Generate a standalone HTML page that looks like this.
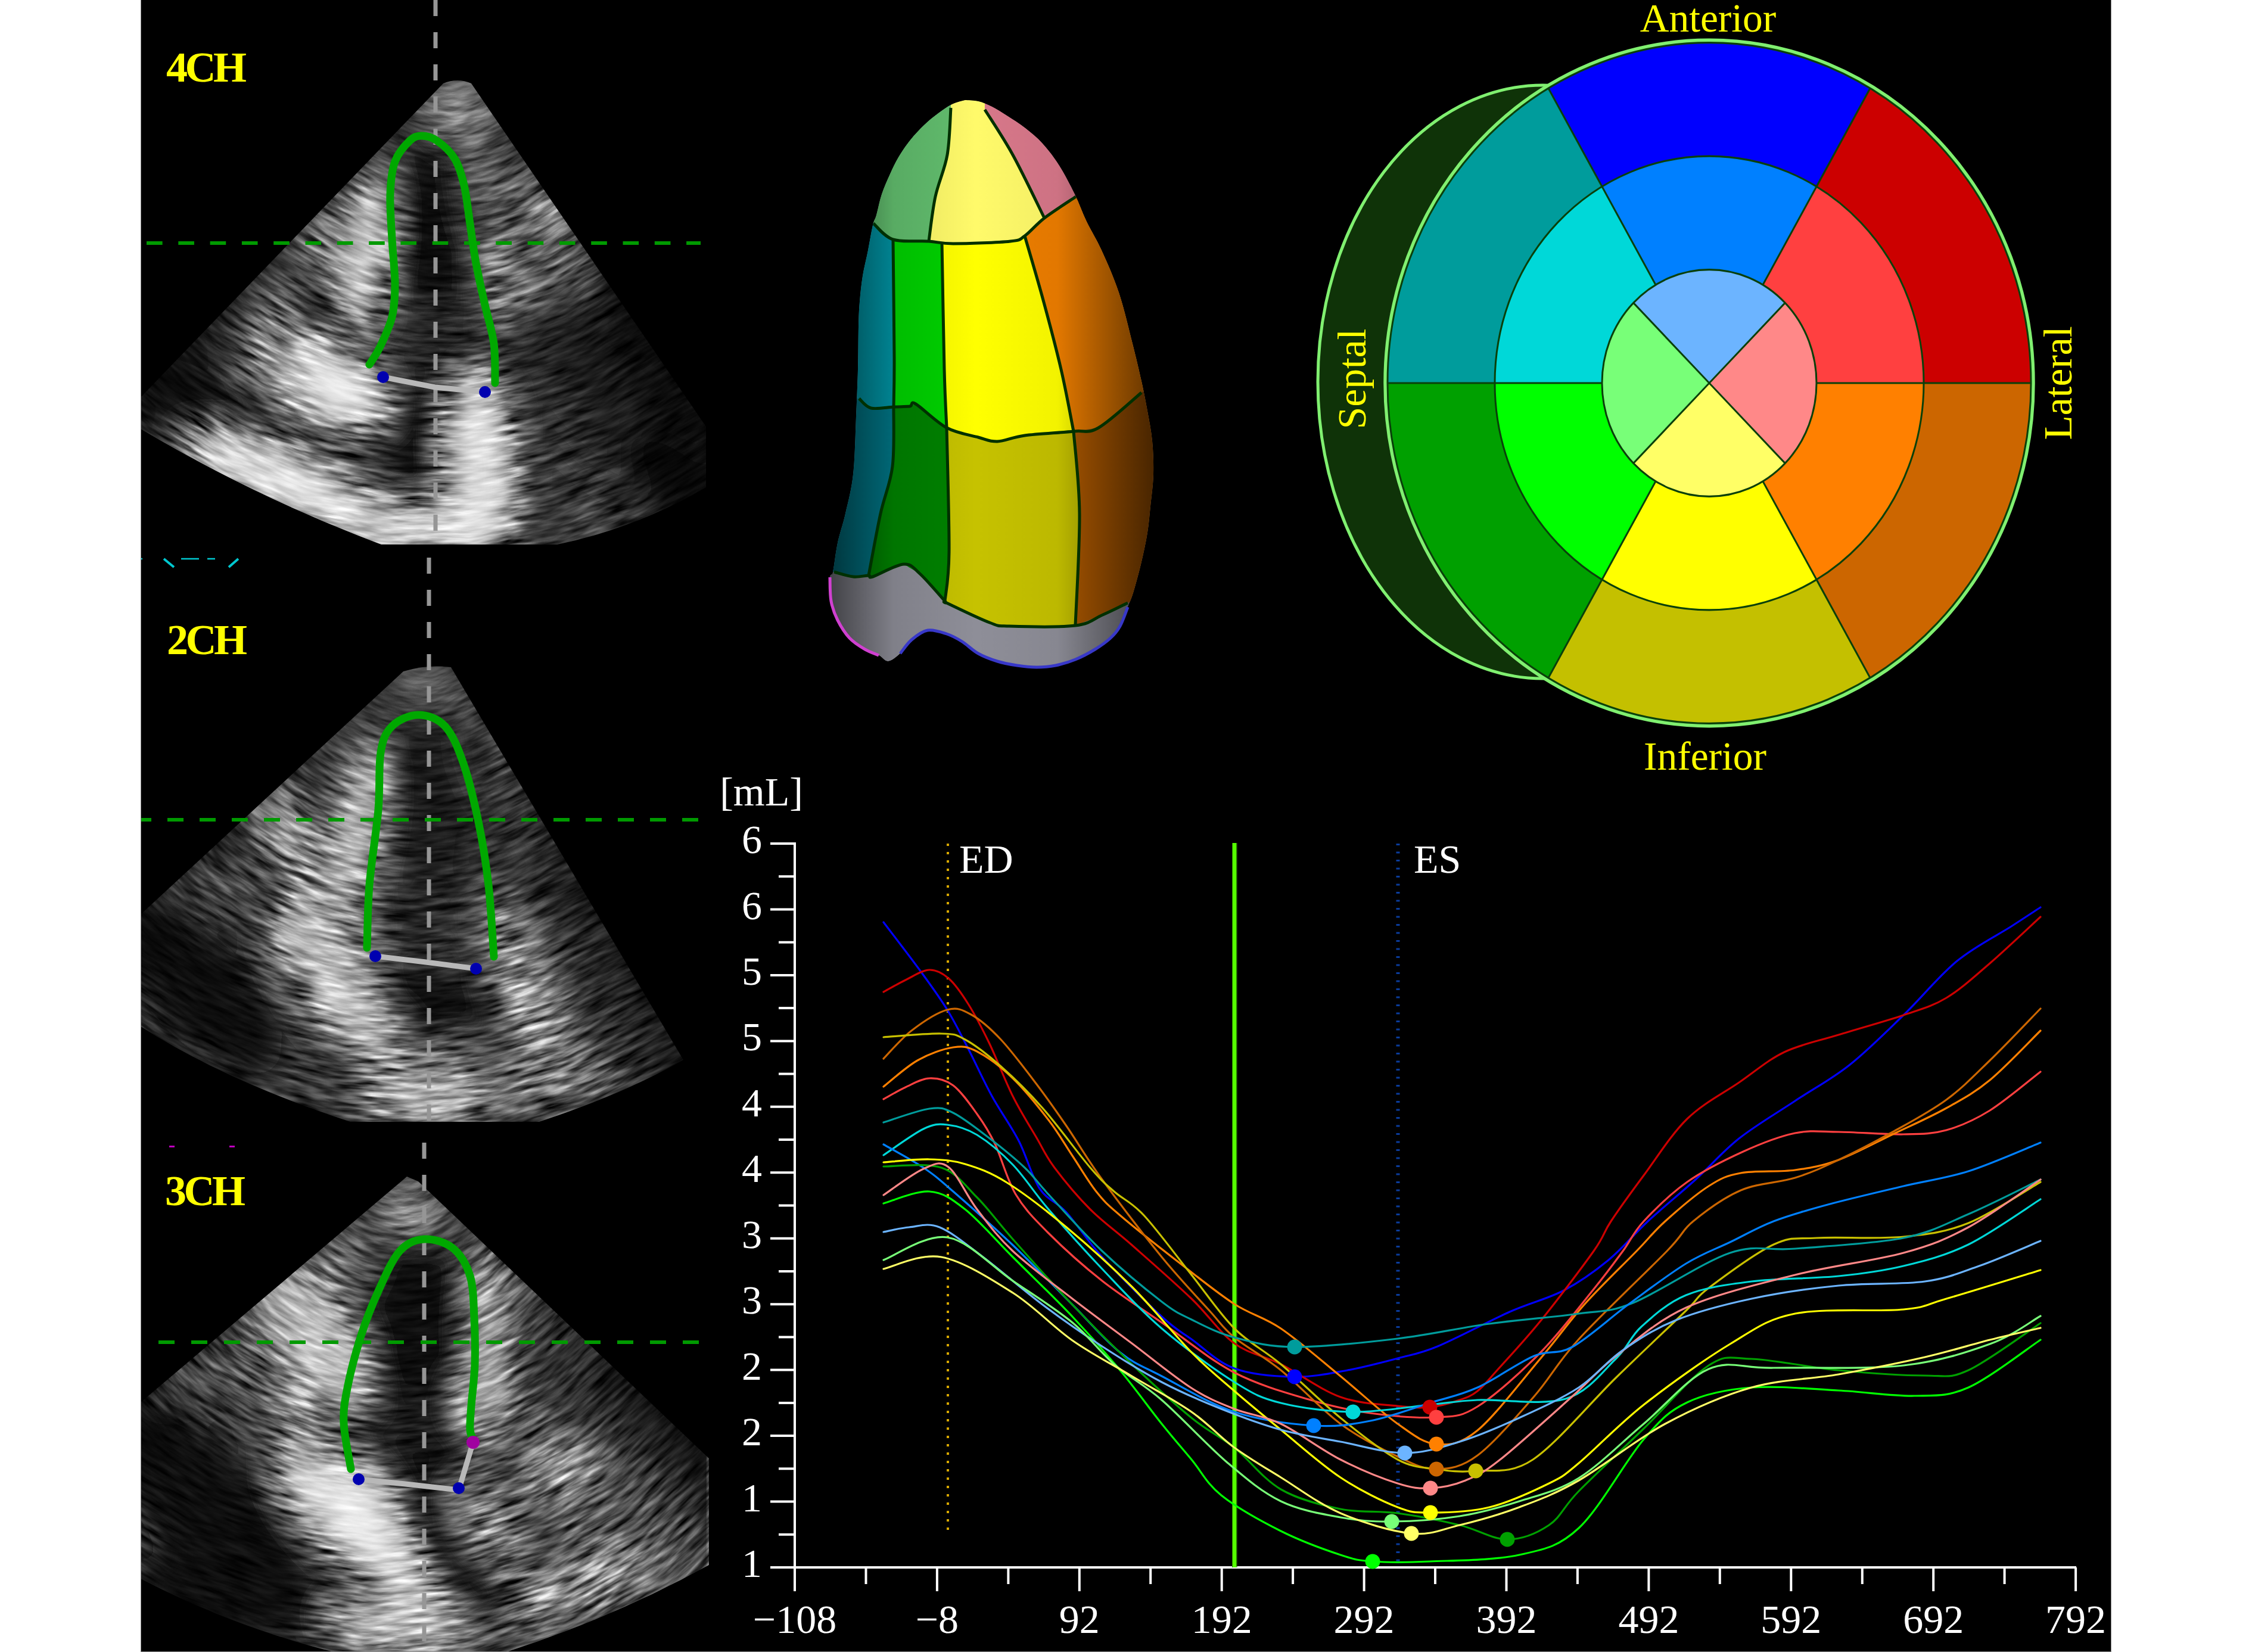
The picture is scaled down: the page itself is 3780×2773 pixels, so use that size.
<!DOCTYPE html>
<html><head><meta charset="utf-8"><style>
html,body{margin:0;padding:0;background:#fff;width:3780px;height:2773px;overflow:hidden}
svg{display:block}
</style></head><body>
<svg width="3780" height="2773" viewBox="0 0 3780 2773" font-family="Liberation Serif">
<rect x="0" y="0" width="3780" height="2773" fill="#FFFFFF"/>
<rect x="236" y="0" width="3308" height="2773" fill="#000000"/>
<defs>
<clipPath id="c4ch"><path d="M744,140 Q768,130 791,140 L1185,716 L1185,818 A825,825 0 0 1 935,914 L640,914 Q430,835 236,720 L236,667 Z"/></clipPath>
<filter id="b4ch" x="-50%" y="-50%" width="200%" height="200%"><feGaussianBlur stdDeviation="26"/></filter>
<clipPath id="c2ch"><path d="M677,1127 Q717,1115 757,1120 L1147,1779 Q1050,1835 905,1883 L588,1883 Q380,1815 236,1723 L236,1535 Z"/></clipPath>
<filter id="b2ch" x="-50%" y="-50%" width="200%" height="200%"><feGaussianBlur stdDeviation="26"/></filter>
<clipPath id="c3ch"><path d="M683,1975 L702,1983 L1190,2448 L1190,2627 Q1030,2715 850,2773 L560,2773 Q390,2730 236,2650 L236,2354 Z"/></clipPath>
<filter id="b3ch" x="-50%" y="-50%" width="200%" height="200%"><feGaussianBlur stdDeviation="26"/></filter>
<filter id="noise0" x="0" y="0" width="100%" height="100%" filterUnits="objectBoundingBox" color-interpolation-filters="sRGB"><feTurbulence type="fractalNoise" baseFrequency="0.015 0.11" numOctaves="3" seed="3"/><feColorMatrix type="matrix" values="1.7 0 0 0 -0.35  1.7 0 0 0 -0.35  1.7 0 0 0 -0.35  0 0 0 0 1"/></filter>
<filter id="noise1" x="0" y="0" width="100%" height="100%" filterUnits="objectBoundingBox" color-interpolation-filters="sRGB"><feTurbulence type="fractalNoise" baseFrequency="0.015 0.11" numOctaves="3" seed="11"/><feColorMatrix type="matrix" values="1.7 0 0 0 -0.35  1.7 0 0 0 -0.35  1.7 0 0 0 -0.35  0 0 0 0 1"/></filter>
<filter id="noise2" x="0" y="0" width="100%" height="100%" filterUnits="objectBoundingBox" color-interpolation-filters="sRGB"><feTurbulence type="fractalNoise" baseFrequency="0.015 0.11" numOctaves="3" seed="29"/><feColorMatrix type="matrix" values="1.7 0 0 0 -0.35  1.7 0 0 0 -0.35  1.7 0 0 0 -0.35  0 0 0 0 1"/></filter>
<filter id="mblur" x="-20%" y="-20%" width="140%" height="140%"><feGaussianBlur stdDeviation="28"/></filter>
<clipPath id="hclip"><rect x="236" y="0" width="1000" height="2773"/></clipPath>
</defs>
<g clip-path="url(#c4ch)">
<rect x="236" y="0" width="950" height="2773" fill="rgb(55,55,55)"/>
<g filter="url(#b4ch)">
<ellipse cx="770.0" cy="185.0" rx="58.5" ry="50.0" transform="rotate(26.6 770.0 185.0)" fill="rgb(131,131,131)"/>
<ellipse cx="614.0" cy="430.0" rx="145.8" ry="30.0" transform="rotate(96.1 614.0 430.0)" fill="rgb(233,233,233)"/>
<ellipse cx="540.0" cy="400.0" rx="85.7" ry="45.0" transform="rotate(71.6 540.0 400.0)" fill="rgb(139,139,139)"/>
<ellipse cx="480.0" cy="495.0" rx="101.3" ry="35.0" transform="rotate(17.4 480.0 495.0)" fill="rgb(124,124,124)"/>
<ellipse cx="550.0" cy="520.0" rx="82.8" ry="37.5" transform="rotate(51.3 550.0 520.0)" fill="rgb(15,15,15)"/>
<ellipse cx="540.0" cy="640.0" rx="116.9" ry="55.0" transform="rotate(26.6 540.0 640.0)" fill="rgb(245,245,245)"/>
<ellipse cx="460.0" cy="600.0" rx="92.1" ry="40.0" transform="rotate(56.3 460.0 600.0)" fill="rgb(168,168,168)"/>
<ellipse cx="475.0" cy="715.0" rx="128.2" ry="35.0" transform="rotate(18.4 475.0 715.0)" fill="rgb(23,23,23)"/>
<ellipse cx="480.0" cy="810.0" rx="184.1" ry="45.0" transform="rotate(21.8 480.0 810.0)" fill="rgb(240,240,240)"/>
<ellipse cx="318.0" cy="660.0" rx="113.7" ry="45.0" transform="rotate(26.0 318.0 660.0)" fill="rgb(15,15,15)"/>
<ellipse cx="728.5" cy="392.5" rx="178.9" ry="62.5" transform="rotate(87.5 728.5 392.5)" fill="rgb(15,15,15)"/>
<ellipse cx="735.0" cy="565.0" rx="82.7" ry="55.0" transform="rotate(5.2 735.0 565.0)" fill="rgb(37,37,37)"/>
<ellipse cx="735.0" cy="605.0" rx="55.0" ry="20.0" transform="rotate(0.0 735.0 605.0)" fill="rgb(15,15,15)"/>
<ellipse cx="705.0" cy="750.0" rx="118.7" ry="55.0" transform="rotate(80.5 705.0 750.0)" fill="rgb(15,15,15)"/>
<ellipse cx="820.0" cy="335.0" rx="124.4" ry="35.0" transform="rotate(79.2 820.0 335.0)" fill="rgb(95,95,95)"/>
<ellipse cx="860.0" cy="490.0" rx="92.8" ry="40.0" transform="rotate(74.1 860.0 490.0)" fill="rgb(153,153,153)"/>
<ellipse cx="810.0" cy="780.0" rx="157.9" ry="55.0" transform="rotate(85.6 810.0 780.0)" fill="rgb(226,226,226)"/>
<ellipse cx="940.0" cy="400.0" rx="114.4" ry="50.0" transform="rotate(63.4 940.0 400.0)" fill="rgb(146,146,146)"/>
<ellipse cx="710.0" cy="890.0" rx="137.5" ry="35.0" transform="rotate(0.0 710.0 890.0)" fill="rgb(240,240,240)"/>
<ellipse cx="1025.0" cy="680.0" rx="228.3" ry="110.0" transform="rotate(43.8 1025.0 680.0)" fill="rgb(37,37,37)"/>
<ellipse cx="1132.5" cy="795.0" rx="106.0" ry="60.0" transform="rotate(46.3 1132.5 795.0)" fill="rgb(15,15,15)"/>
</g>
<g style="mix-blend-mode:overlay">
<g mask="url(#w4ch0)"><g transform="rotate(40.9 768 106)"><rect x="-332" y="-44" width="2200" height="1900" filter="url(#noise0)"/></g></g>
<g mask="url(#w4ch1)"><g transform="rotate(30.6 768 106)"><rect x="-332" y="-44" width="2200" height="1900" filter="url(#noise1)"/></g></g>
<g mask="url(#w4ch2)"><g transform="rotate(20.4 768 106)"><rect x="-332" y="-44" width="2200" height="1900" filter="url(#noise2)"/></g></g>
<g mask="url(#w4ch3)"><g transform="rotate(10.1 768 106)"><rect x="-332" y="-44" width="2200" height="1900" filter="url(#noise0)"/></g></g>
<g mask="url(#w4ch4)"><g transform="rotate(-0.1 768 106)"><rect x="-332" y="-44" width="2200" height="1900" filter="url(#noise1)"/></g></g>
<g mask="url(#w4ch5)"><g transform="rotate(-10.4 768 106)"><rect x="-332" y="-44" width="2200" height="1900" filter="url(#noise2)"/></g></g>
<g mask="url(#w4ch6)"><g transform="rotate(-20.6 768 106)"><rect x="-332" y="-44" width="2200" height="1900" filter="url(#noise0)"/></g></g>
<g mask="url(#w4ch7)"><g transform="rotate(-30.9 768 106)"><rect x="-332" y="-44" width="2200" height="1900" filter="url(#noise1)"/></g></g>
</g>
<g mask="url(#fm4ch)">
<path d="M751.0,46.2 L1709.6,1447.5 L1552.8,1554.8 L594.2,153.4 Z" fill="url(#fd4ch0)"/>
<path d="M799.0,54.1 L-403.0,1301.1 L-309.4,1391.3 L892.6,144.3 Z" fill="url(#fd4ch1)"/>
</g>
</g>
<g clip-path="url(#c2ch)">
<rect x="236" y="0" width="950" height="2773" fill="rgb(55,55,55)"/>
<g filter="url(#b2ch)">
<ellipse cx="720.0" cy="1165.0" rx="62.5" ry="45.0" transform="rotate(0.0 720.0 1165.0)" fill="rgb(88,88,88)"/>
<ellipse cx="602.5" cy="1375.0" rx="140.6" ry="30.0" transform="rotate(95.7 602.5 1375.0)" fill="rgb(218,218,218)"/>
<ellipse cx="490.0" cy="1410.0" rx="121.8" ry="55.0" transform="rotate(58.0 490.0 1410.0)" fill="rgb(139,139,139)"/>
<ellipse cx="450.0" cy="1362.5" rx="33.6" ry="20.0" transform="rotate(32.0 450.0 1362.5)" fill="rgb(226,226,226)"/>
<ellipse cx="335.0" cy="1465.0" rx="86.7" ry="40.0" transform="rotate(13.0 335.0 1465.0)" fill="rgb(95,95,95)"/>
<ellipse cx="720.0" cy="1360.0" rx="175.1" ry="70.0" transform="rotate(88.0 720.0 1360.0)" fill="rgb(30,30,30)"/>
<ellipse cx="865.0" cy="1355.0" rx="186.4" ry="55.0" transform="rotate(65.9 865.0 1355.0)" fill="rgb(59,59,59)"/>
<ellipse cx="333.0" cy="1660.0" rx="181.8" ry="85.0" transform="rotate(45.9 333.0 1660.0)" fill="rgb(15,15,15)"/>
<ellipse cx="565.0" cy="1655.0" rx="170.5" ry="55.0" transform="rotate(53.5 565.0 1655.0)" fill="rgb(197,197,197)"/>
<ellipse cx="565.0" cy="1540.0" rx="84.8" ry="35.0" transform="rotate(48.0 565.0 1540.0)" fill="rgb(153,153,153)"/>
<ellipse cx="720.0" cy="1535.0" rx="105.2" ry="50.0" transform="rotate(3.6 720.0 1535.0)" fill="rgb(37,37,37)"/>
<ellipse cx="740.0" cy="1685.0" rx="118.7" ry="55.0" transform="rotate(9.5 740.0 1685.0)" fill="rgb(15,15,15)"/>
<ellipse cx="745.0" cy="1775.0" rx="98.8" ry="27.5" transform="rotate(0.0 745.0 1775.0)" fill="rgb(95,95,95)"/>
<ellipse cx="725.0" cy="1845.0" rx="122.5" ry="35.0" transform="rotate(0.0 725.0 1845.0)" fill="rgb(211,211,211)"/>
<ellipse cx="890.0" cy="1660.0" rx="176.2" ry="55.0" transform="rotate(70.3 890.0 1660.0)" fill="rgb(139,139,139)"/>
<ellipse cx="1040.0" cy="1615.0" rx="189.4" ry="65.0" transform="rotate(59.3 1040.0 1615.0)" fill="rgb(66,66,66)"/>
<ellipse cx="920.0" cy="1815.0" rx="140.9" ry="40.0" transform="rotate(-7.1 920.0 1815.0)" fill="rgb(110,110,110)"/>
</g>
<g style="mix-blend-mode:overlay">
<g mask="url(#w2ch0)"><g transform="rotate(43.0 718 1085)"><rect x="-382" y="935" width="2200" height="1900" filter="url(#noise0)"/></g></g>
<g mask="url(#w2ch1)"><g transform="rotate(33.0 718 1085)"><rect x="-382" y="935" width="2200" height="1900" filter="url(#noise1)"/></g></g>
<g mask="url(#w2ch2)"><g transform="rotate(23.0 718 1085)"><rect x="-382" y="935" width="2200" height="1900" filter="url(#noise2)"/></g></g>
<g mask="url(#w2ch3)"><g transform="rotate(13.0 718 1085)"><rect x="-382" y="935" width="2200" height="1900" filter="url(#noise0)"/></g></g>
<g mask="url(#w2ch4)"><g transform="rotate(3.0 718 1085)"><rect x="-382" y="935" width="2200" height="1900" filter="url(#noise1)"/></g></g>
<g mask="url(#w2ch5)"><g transform="rotate(-7.0 718 1085)"><rect x="-382" y="935" width="2200" height="1900" filter="url(#noise2)"/></g></g>
<g mask="url(#w2ch6)"><g transform="rotate(-17.0 718 1085)"><rect x="-382" y="935" width="2200" height="1900" filter="url(#noise0)"/></g></g>
<g mask="url(#w2ch7)"><g transform="rotate(-27.0 718 1085)"><rect x="-382" y="935" width="2200" height="1900" filter="url(#noise1)"/></g></g>
</g>
<g mask="url(#fm2ch)">
<path d="M723.3,1023.8 L1622.6,2543.3 L1476.3,2629.9 L577.0,1110.3 Z" fill="url(#fd2ch0)"/>
<path d="M736.8,1044.4 L-438.2,2131.5 L-356.7,2219.6 L818.3,1132.5 Z" fill="url(#fd2ch1)"/>
</g>
</g>
<g clip-path="url(#c3ch)">
<rect x="236" y="0" width="950" height="2773" fill="rgb(55,55,55)"/>
<g filter="url(#b3ch)">
<ellipse cx="685.0" cy="2030.0" rx="50.4" ry="40.0" transform="rotate(80.5 685.0 2030.0)" fill="rgb(153,153,153)"/>
<ellipse cx="575.0" cy="2125.0" rx="71.5" ry="40.0" transform="rotate(119.1 575.0 2125.0)" fill="rgb(110,110,110)"/>
<ellipse cx="515.0" cy="2235.0" rx="153.5" ry="65.0" transform="rotate(51.7 515.0 2235.0)" fill="rgb(197,197,197)"/>
<ellipse cx="345.0" cy="2290.0" rx="100.8" ry="40.0" transform="rotate(-21.8 345.0 2290.0)" fill="rgb(110,110,110)"/>
<ellipse cx="697.5" cy="2235.0" rx="171.3" ry="92.5" transform="rotate(91.1 697.5 2235.0)" fill="rgb(15,15,15)"/>
<ellipse cx="825.0" cy="2270.0" rx="163.9" ry="27.5" transform="rotate(87.3 825.0 2270.0)" fill="rgb(204,204,204)"/>
<ellipse cx="785.0" cy="2065.0" rx="82.7" ry="35.0" transform="rotate(32.5 785.0 2065.0)" fill="rgb(66,66,66)"/>
<ellipse cx="955.0" cy="2255.0" rx="153.5" ry="65.0" transform="rotate(38.3 955.0 2255.0)" fill="rgb(73,73,73)"/>
<ellipse cx="358.0" cy="2550.0" rx="243.3" ry="100.0" transform="rotate(50.9 358.0 2550.0)" fill="rgb(15,15,15)"/>
<ellipse cx="318.0" cy="2700.0" rx="126.6" ry="50.0" transform="rotate(36.2 318.0 2700.0)" fill="rgb(15,15,15)"/>
<ellipse cx="600.0" cy="2545.0" rx="170.4" ry="65.0" transform="rotate(43.5 600.0 2545.0)" fill="rgb(240,240,240)"/>
<ellipse cx="510.0" cy="2395.0" rx="103.9" ry="45.0" transform="rotate(42.5 510.0 2395.0)" fill="rgb(124,124,124)"/>
<ellipse cx="690.0" cy="2720.0" rx="135.0" ry="50.0" transform="rotate(0.0 690.0 2720.0)" fill="rgb(197,197,197)"/>
<ellipse cx="690.0" cy="2400.0" rx="120.0" ry="60.0" transform="rotate(0.0 690.0 2400.0)" fill="rgb(30,30,30)"/>
<ellipse cx="755.0" cy="2600.0" rx="174.0" ry="65.0" transform="rotate(58.0 755.0 2600.0)" fill="rgb(15,15,15)"/>
<ellipse cx="712.5" cy="2445.0" rx="66.2" ry="27.5" transform="rotate(0.0 712.5 2445.0)" fill="rgb(15,15,15)"/>
<ellipse cx="825.0" cy="2380.0" rx="78.5" ry="35.0" transform="rotate(55.0 825.0 2380.0)" fill="rgb(197,197,197)"/>
<ellipse cx="820.0" cy="2560.0" rx="92.1" ry="40.0" transform="rotate(56.3 820.0 2560.0)" fill="rgb(139,139,139)"/>
<ellipse cx="1015.0" cy="2525.0" rx="239.0" ry="110.0" transform="rotate(42.8 1015.0 2525.0)" fill="rgb(81,81,81)"/>
<ellipse cx="945.0" cy="2468.0" rx="73.6" ry="20.0" transform="rotate(-30.2 945.0 2468.0)" fill="rgb(197,197,197)"/>
<ellipse cx="975.0" cy="2647.5" rx="128.3" ry="30.0" transform="rotate(-22.0 975.0 2647.5)" fill="rgb(153,153,153)"/>
<ellipse cx="955.0" cy="2720.0" rx="124.4" ry="35.0" transform="rotate(-10.8 955.0 2720.0)" fill="rgb(95,95,95)"/>
</g>
<g style="mix-blend-mode:overlay">
<g mask="url(#w3ch0)"><g transform="rotate(43.9 690 1968)"><rect x="-410" y="1818" width="2200" height="1900" filter="url(#noise0)"/></g></g>
<g mask="url(#w3ch1)"><g transform="rotate(31.6 690 1968)"><rect x="-410" y="1818" width="2200" height="1900" filter="url(#noise1)"/></g></g>
<g mask="url(#w3ch2)"><g transform="rotate(19.4 690 1968)"><rect x="-410" y="1818" width="2200" height="1900" filter="url(#noise2)"/></g></g>
<g mask="url(#w3ch3)"><g transform="rotate(7.1 690 1968)"><rect x="-410" y="1818" width="2200" height="1900" filter="url(#noise0)"/></g></g>
<g mask="url(#w3ch4)"><g transform="rotate(-5.1 690 1968)"><rect x="-410" y="1818" width="2200" height="1900" filter="url(#noise1)"/></g></g>
<g mask="url(#w3ch5)"><g transform="rotate(-17.4 690 1968)"><rect x="-410" y="1818" width="2200" height="1900" filter="url(#noise2)"/></g></g>
<g mask="url(#w3ch6)"><g transform="rotate(-29.6 690 1968)"><rect x="-410" y="1818" width="2200" height="1900" filter="url(#noise0)"/></g></g>
<g mask="url(#w3ch7)"><g transform="rotate(-41.9 690 1968)"><rect x="-410" y="1818" width="2200" height="1900" filter="url(#noise1)"/></g></g>
</g>
<g mask="url(#fm3ch)">
<path d="M643.4,1899.5 L1855.4,3054.4 L1731.2,3184.7 L519.2,2029.8 Z" fill="url(#fd3ch0)"/>
<path d="M746.3,1895.1 L-463.4,2920.8 L-385.8,3012.3 L823.9,1986.6 Z" fill="url(#fd3ch1)"/>
</g>
</g>
<line x1="731" y1="0" x2="731" y2="914" stroke="#969696" stroke-width="7" stroke-dasharray="27 27"/>
<line x1="246" y1="408" x2="1176" y2="408" stroke="#009A00" stroke-width="6" stroke-dasharray="26.65 26.65" clip-path="url(#hclip)"/>
<path d="M620.0,612.0 C623.0,607.0 631.7,595.3 638.0,582.0 C644.3,568.7 653.8,549.5 658.0,532.0 C662.2,514.5 663.0,498.8 663.0,477.0 C663.0,455.2 659.3,426.2 658.0,401.0 C656.7,375.8 654.2,347.7 655.0,326.0 C655.8,304.3 657.5,286.0 663.0,271.0 C668.5,256.0 680.5,243.2 688.0,236.0 C695.5,228.8 700.5,228.0 708.0,228.0 C715.5,228.0 723.8,229.7 733.0,236.0 C742.2,242.3 755.3,253.5 763.0,266.0 C770.7,278.5 774.7,292.7 779.0,311.0 C783.3,329.3 785.7,354.2 789.0,376.0 C792.3,397.8 794.8,419.3 799.0,442.0 C803.2,464.7 809.0,489.5 814.0,512.0 C819.0,534.5 826.2,555.2 829.0,577.0 C831.8,598.8 830.7,632.0 831.0,643.0" fill="none" stroke="#00A800" stroke-width="13" stroke-linecap="round"/>
<path d="M643,633 L730,650 L814,658" fill="none" stroke="#B8B8B8" stroke-width="9" stroke-linecap="round"/>
<circle cx="643" cy="633" r="10" fill="#0000B0"/>
<circle cx="814" cy="658" r="10" fill="#0000B0"/>
<text x="279" y="137" font-family="Liberation Serif" font-weight="bold" font-size="72" letter-spacing="-4.5" fill="#FFFF00">4CH</text>
<line x1="720" y1="936" x2="720" y2="1882" stroke="#969696" stroke-width="7" stroke-dasharray="27 27"/>
<line x1="227" y1="1376" x2="1173" y2="1376" stroke="#009A00" stroke-width="6" stroke-dasharray="27 27" clip-path="url(#hclip)"/>
<path d="M616.0,1591.0 C616.7,1573.5 616.8,1524.7 620.0,1486.0 C623.2,1447.3 631.8,1396.2 635.0,1359.0 C638.2,1321.8 635.2,1286.3 639.0,1263.0 C642.8,1239.7 647.5,1229.5 658.0,1219.0 C668.5,1208.5 687.2,1200.0 702.0,1200.0 C716.8,1200.0 734.3,1205.3 747.0,1219.0 C759.7,1232.7 768.5,1254.5 778.0,1282.0 C787.5,1309.5 797.0,1350.0 804.0,1384.0 C811.0,1418.0 815.8,1449.0 820.0,1486.0 C824.2,1523.0 827.5,1586.0 829.0,1606.0" fill="none" stroke="#00A800" stroke-width="13" stroke-linecap="round"/>
<path d="M630,1605 L715,1615 L799,1626" fill="none" stroke="#B8B8B8" stroke-width="9" stroke-linecap="round"/>
<circle cx="630" cy="1605" r="10" fill="#0000B0"/>
<circle cx="799" cy="1626" r="10" fill="#0000B0"/>
<text x="280" y="1098" font-family="Liberation Serif" font-weight="bold" font-size="72" letter-spacing="-4.5" fill="#FFFF00">2CH</text>
<line x1="712" y1="1918" x2="712" y2="2773" stroke="#969696" stroke-width="7" stroke-dasharray="27 27"/>
<line x1="266" y1="2253" x2="1175" y2="2253" stroke="#009A00" stroke-width="6" stroke-dasharray="27 28" clip-path="url(#hclip)"/>
<path d="M589.0,2466.0 C587.0,2453.2 578.0,2411.7 577.0,2389.0 C576.0,2366.3 578.2,2354.5 583.0,2330.0 C587.8,2305.5 597.2,2269.5 606.0,2242.0 C614.8,2214.5 625.2,2188.7 636.0,2165.0 C646.8,2141.3 658.3,2114.2 671.0,2100.0 C683.7,2085.8 697.2,2080.8 712.0,2080.0 C726.8,2079.2 747.2,2084.7 760.0,2095.0 C772.8,2105.3 783.0,2122.5 789.0,2142.0 C795.0,2161.5 794.7,2187.3 796.0,2212.0 C797.3,2236.7 797.8,2265.3 797.0,2290.0 C796.2,2314.7 792.3,2341.7 791.0,2360.0 C789.7,2378.3 788.3,2390.3 789.0,2400.0 C789.7,2409.7 794.0,2415.0 795.0,2418.0" fill="none" stroke="#00A800" stroke-width="13" stroke-linecap="round"/>
<path d="M602,2483 L690,2492 L770,2501 L794,2421" fill="none" stroke="#B8B8B8" stroke-width="9" stroke-linecap="round"/>
<circle cx="602" cy="2483" r="10" fill="#0000B0"/>
<circle cx="770" cy="2498" r="10" fill="#0000B0"/>
<text x="277" y="2023" font-family="Liberation Serif" font-weight="bold" font-size="72" letter-spacing="-4.5" fill="#FFFF00">3CH</text>
<circle cx="794" cy="2421" r="11" fill="#A000A0"/>
<path d="M275,938 L292,952 M400,938 L384,952" fill="none" stroke="#00C8D0" stroke-width="4"/>
<path d="M236,938 L239,938 M304,938 L334,938 M348,938 L361,938" fill="none" stroke="#00C8D0" stroke-width="2.5"/>
<rect x="284" y="1923" width="9" height="3" fill="#C000C0"/><rect x="385" y="1923" width="9" height="3" fill="#C000C0"/>
<defs><mask id="w4ch0" maskUnits="userSpaceOnUse" x="0" y="0" width="3780" height="2773"><path d="M768,46 L-374.1,1078.4 L-30.5,1375.8 Z" fill="#fff" filter="url(#mblur)"/></mask><mask id="w4ch1" maskUnits="userSpaceOnUse" x="0" y="0" width="3780" height="2773"><path d="M768,46 L-182.8,1266.1 L208.2,1497.6 Z" fill="#fff" filter="url(#mblur)"/></mask><mask id="w4ch2" maskUnits="userSpaceOnUse" x="0" y="0" width="3780" height="2773"><path d="M768,46 L38.8,1416.8 L464.8,1575.0 Z" fill="#fff" filter="url(#mblur)"/></mask><mask id="w4ch3" maskUnits="userSpaceOnUse" x="0" y="0" width="3780" height="2773"><path d="M768,46 L283.7,1525.7 L731.0,1605.5 Z" fill="#fff" filter="url(#mblur)"/></mask><mask id="w4ch4" maskUnits="userSpaceOnUse" x="0" y="0" width="3780" height="2773"><path d="M768,46 L544.0,1589.2 L998.4,1588.2 Z" fill="#fff" filter="url(#mblur)"/></mask><mask id="w4ch5" maskUnits="userSpaceOnUse" x="0" y="0" width="3780" height="2773"><path d="M768,46 L811.5,1605.4 L1258.5,1523.5 Z" fill="#fff" filter="url(#mblur)"/></mask><mask id="w4ch6" maskUnits="userSpaceOnUse" x="0" y="0" width="3780" height="2773"><path d="M768,46 L1077.6,1573.7 L1502.9,1413.6 Z" fill="#fff" filter="url(#mblur)"/></mask><mask id="w4ch7" maskUnits="userSpaceOnUse" x="0" y="0" width="3780" height="2773"><path d="M768,46 L1333.9,1495.2 L1723.9,1262.0 Z" fill="#fff" filter="url(#mblur)"/></mask><radialGradient id="rg4ch" gradientUnits="userSpaceOnUse" cx="768" cy="106" r="800"><stop offset="0.28" stop-color="#000"/><stop offset="0.6" stop-color="#fff"/></radialGradient><mask id="fm4ch" maskUnits="userSpaceOnUse" x="0" y="0" width="3780" height="2773"><rect x="0" y="0" width="3780" height="2773" fill="url(#rg4ch)"/></mask><linearGradient id="fd4ch0" gradientUnits="userSpaceOnUse" x1="791.0" y1="140.0" x2="650.7" y2="236.0"><stop offset="0" stop-color="#000" stop-opacity="0.75"/><stop offset="1" stop-color="#000" stop-opacity="0"/></linearGradient><linearGradient id="fd4ch1" gradientUnits="userSpaceOnUse" x1="744.0" y1="140.0" x2="823.2" y2="216.3"><stop offset="0" stop-color="#000" stop-opacity="0.50"/><stop offset="1" stop-color="#000" stop-opacity="0"/></linearGradient><mask id="w2ch0" maskUnits="userSpaceOnUse" x="0" y="0" width="3780" height="2773"><path d="M718,1025 L-455.9,2018.8 L-131.6,2321.2 Z" fill="#fff" filter="url(#mblur)"/></mask><mask id="w2ch1" maskUnits="userSpaceOnUse" x="0" y="0" width="3780" height="2773"><path d="M718,1025 L-275.9,2208.4 L96.0,2449.9 Z" fill="#fff" filter="url(#mblur)"/></mask><mask id="w2ch2" maskUnits="userSpaceOnUse" x="0" y="0" width="3780" height="2773"><path d="M718,1025 L-65.7,2364.0 L342.4,2537.2 Z" fill="#fff" filter="url(#mblur)"/></mask><mask id="w2ch3" maskUnits="userSpaceOnUse" x="0" y="0" width="3780" height="2773"><path d="M718,1025 L168.2,2480.6 L600.3,2580.4 Z" fill="#fff" filter="url(#mblur)"/></mask><mask id="w2ch4" maskUnits="userSpaceOnUse" x="0" y="0" width="3780" height="2773"><path d="M718,1025 L418.9,2554.9 L861.8,2578.1 Z" fill="#fff" filter="url(#mblur)"/></mask><mask id="w2ch5" maskUnits="userSpaceOnUse" x="0" y="0" width="3780" height="2773"><path d="M718,1025 L678.7,2584.5 L1118.9,2530.4 Z" fill="#fff" filter="url(#mblur)"/></mask><mask id="w2ch6" maskUnits="userSpaceOnUse" x="0" y="0" width="3780" height="2773"><path d="M718,1025 L939.7,2568.5 L1363.8,2438.9 Z" fill="#fff" filter="url(#mblur)"/></mask><mask id="w2ch7" maskUnits="userSpaceOnUse" x="0" y="0" width="3780" height="2773"><path d="M718,1025 L1194.0,2507.5 L1589.1,2306.2 Z" fill="#fff" filter="url(#mblur)"/></mask><radialGradient id="rg2ch" gradientUnits="userSpaceOnUse" cx="718" cy="1085" r="800"><stop offset="0.28" stop-color="#000"/><stop offset="0.6" stop-color="#fff"/></radialGradient><mask id="fm2ch" maskUnits="userSpaceOnUse" x="0" y="0" width="3780" height="2773"><rect x="0" y="0" width="3780" height="2773" fill="url(#rg2ch)"/></mask><linearGradient id="fd2ch0" gradientUnits="userSpaceOnUse" x1="757.0" y1="1120.0" x2="627.9" y2="1196.4"><stop offset="0" stop-color="#000" stop-opacity="0.60"/><stop offset="1" stop-color="#000" stop-opacity="0"/></linearGradient><linearGradient id="fd2ch1" gradientUnits="userSpaceOnUse" x1="677.0" y1="1127.0" x2="744.9" y2="1200.4"><stop offset="0" stop-color="#000" stop-opacity="0.45"/><stop offset="1" stop-color="#000" stop-opacity="0"/></linearGradient><mask id="w3ch0" maskUnits="userSpaceOnUse" x="0" y="0" width="3780" height="2773"><path d="M690,1908 L-527.9,2843.6 L-137.1,3219.4 Z" fill="#fff" filter="url(#mblur)"/></mask><mask id="w3ch1" maskUnits="userSpaceOnUse" x="0" y="0" width="3780" height="2773"><path d="M690,1908 L-314.4,3082.1 L147.3,3366.4 Z" fill="#fff" filter="url(#mblur)"/></mask><mask id="w3ch2" maskUnits="userSpaceOnUse" x="0" y="0" width="3780" height="2773"><path d="M690,1908 L-55.2,3269.8 L456.3,3449.7 Z" fill="#fff" filter="url(#mblur)"/></mask><mask id="w3ch3" maskUnits="userSpaceOnUse" x="0" y="0" width="3780" height="2773"><path d="M690,1908 L238.0,3398.3 L776.0,3465.5 Z" fill="#fff" filter="url(#mblur)"/></mask><mask id="w3ch4" maskUnits="userSpaceOnUse" x="0" y="0" width="3780" height="2773"><path d="M690,1908 L551.8,3461.6 L1091.8,3413.2 Z" fill="#fff" filter="url(#mblur)"/></mask><mask id="w3ch5" maskUnits="userSpaceOnUse" x="0" y="0" width="3780" height="2773"><path d="M690,1908 L871.8,3456.9 L1389.3,3295.0 Z" fill="#fff" filter="url(#mblur)"/></mask><mask id="w3ch6" maskUnits="userSpaceOnUse" x="0" y="0" width="3780" height="2773"><path d="M690,1908 L1183.6,3384.5 L1654.9,3116.4 Z" fill="#fff" filter="url(#mblur)"/></mask><mask id="w3ch7" maskUnits="userSpaceOnUse" x="0" y="0" width="3780" height="2773"><path d="M690,1908 L1472.9,3247.5 L1876.6,2885.5 Z" fill="#fff" filter="url(#mblur)"/></mask><radialGradient id="rg3ch" gradientUnits="userSpaceOnUse" cx="690" cy="1968" r="800"><stop offset="0.28" stop-color="#000"/><stop offset="0.6" stop-color="#fff"/></radialGradient><mask id="fm3ch" maskUnits="userSpaceOnUse" x="0" y="0" width="3780" height="2773"><rect x="0" y="0" width="3780" height="2773" fill="url(#rg3ch)"/></mask><linearGradient id="fd3ch0" gradientUnits="userSpaceOnUse" x1="702.0" y1="1983.0" x2="591.6" y2="2098.8"><stop offset="0" stop-color="#000" stop-opacity="0.65"/><stop offset="1" stop-color="#000" stop-opacity="0"/></linearGradient><linearGradient id="fd3ch1" gradientUnits="userSpaceOnUse" x1="683.0" y1="1975.0" x2="747.7" y2="2051.3"><stop offset="0" stop-color="#000" stop-opacity="0.45"/><stop offset="1" stop-color="#000" stop-opacity="0"/></linearGradient></defs>
<defs>
<clipPath id="lvclip"><path d="M1620.0,168.0 C1623.7,168.3 1634.5,168.2 1642.0,170.0 C1649.5,171.8 1657.0,175.0 1665.0,179.0 C1673.0,183.0 1680.7,188.0 1690.0,194.0 C1699.3,200.0 1711.0,207.2 1721.0,215.0 C1731.0,222.8 1740.5,230.5 1750.0,241.0 C1759.5,251.5 1769.0,263.8 1778.0,278.0 C1787.0,292.2 1796.3,310.3 1804.0,326.0 C1811.7,341.7 1816.5,356.3 1824.0,372.0 C1831.5,387.7 1840.0,400.2 1849.0,420.0 C1858.0,439.8 1869.3,464.8 1878.0,491.0 C1886.7,517.2 1894.7,552.2 1901.0,577.0 C1907.3,601.8 1911.8,621.2 1916.0,640.0 C1920.2,658.8 1923.0,673.3 1926.0,690.0 C1929.0,706.7 1932.3,722.3 1934.0,740.0 C1935.7,757.7 1936.5,777.7 1936.0,796.0 C1935.5,814.3 1932.7,833.7 1931.0,850.0 C1929.3,866.3 1928.5,878.5 1926.0,894.0 C1923.5,909.5 1919.8,926.7 1916.0,943.0 C1912.2,959.3 1906.8,979.3 1903.0,992.0 C1899.2,1004.7 1896.8,1009.2 1893.0,1019.0 C1889.2,1028.8 1884.8,1042.3 1880.0,1051.0 C1875.2,1059.7 1871.0,1064.5 1864.0,1071.0 C1857.0,1077.5 1847.8,1084.0 1838.0,1090.0 C1828.2,1096.0 1816.0,1102.5 1805.0,1107.0 C1794.0,1111.5 1782.8,1114.8 1772.0,1117.0 C1761.2,1119.2 1750.8,1120.0 1740.0,1120.0 C1729.2,1120.0 1718.0,1118.7 1707.0,1117.0 C1696.0,1115.3 1684.8,1113.3 1674.0,1110.0 C1663.2,1106.7 1651.8,1102.5 1642.0,1097.0 C1632.2,1091.5 1623.8,1082.5 1615.0,1077.0 C1606.2,1071.5 1598.7,1067.2 1589.0,1064.0 C1579.3,1060.8 1566.8,1056.3 1557.0,1058.0 C1547.2,1059.7 1537.7,1067.5 1530.0,1074.0 C1522.3,1080.5 1517.5,1091.0 1511.0,1097.0 C1504.5,1103.0 1497.0,1109.5 1491.0,1110.0 C1485.0,1110.5 1481.5,1103.3 1475.0,1100.0 C1468.5,1096.7 1460.2,1094.8 1452.0,1090.0 C1443.8,1085.2 1433.7,1079.2 1426.0,1071.0 C1418.3,1062.8 1411.2,1051.3 1406.0,1041.0 C1400.8,1030.7 1397.2,1021.0 1395.0,1009.0 C1392.8,997.0 1392.5,977.2 1393.0,969.0 C1393.5,960.8 1395.8,969.7 1398.0,960.0 C1400.2,950.3 1402.5,927.3 1406.0,911.0 C1409.5,894.7 1414.7,881.2 1419.0,862.0 C1423.3,842.8 1429.0,823.3 1432.0,796.0 C1435.0,768.7 1435.7,727.3 1437.0,698.0 C1438.3,668.7 1439.3,645.0 1440.0,620.0 C1440.7,595.0 1440.5,567.0 1441.0,548.0 C1441.5,529.0 1441.8,520.2 1443.0,506.0 C1444.2,491.8 1445.7,477.3 1448.0,463.0 C1450.3,448.7 1454.2,434.2 1457.0,420.0 C1459.8,405.8 1462.7,387.8 1465.0,378.0 C1467.3,368.2 1468.5,369.7 1471.0,361.0 C1473.5,352.3 1476.2,337.5 1480.0,326.0 C1483.8,314.5 1489.3,302.3 1494.0,292.0 C1498.7,281.7 1502.3,273.5 1508.0,264.0 C1513.7,254.5 1520.8,244.0 1528.0,235.0 C1535.2,226.0 1543.2,217.5 1551.0,210.0 C1558.8,202.5 1567.2,195.8 1575.0,190.0 C1582.8,184.2 1590.5,178.7 1598.0,175.0 C1605.5,171.3 1616.3,169.2 1620.0,168.0 Z"/></clipPath>
<linearGradient id="lvshade" x1="1390" y1="0" x2="1940" y2="0" gradientUnits="userSpaceOnUse"><stop offset="0" stop-color="#000" stop-opacity="0.55"/><stop offset="0.2" stop-color="#000" stop-opacity="0.1"/><stop offset="0.45" stop-color="#000" stop-opacity="0"/><stop offset="0.7" stop-color="#000" stop-opacity="0.05"/><stop offset="1" stop-color="#000" stop-opacity="0.6"/></linearGradient>
</defs>
<g clip-path="url(#lvclip)">
<path d="M1620.0,168.0 C1623.7,168.3 1634.5,168.2 1642.0,170.0 C1649.5,171.8 1657.0,175.0 1665.0,179.0 C1673.0,183.0 1680.7,188.0 1690.0,194.0 C1699.3,200.0 1711.0,207.2 1721.0,215.0 C1731.0,222.8 1740.5,230.5 1750.0,241.0 C1759.5,251.5 1769.0,263.8 1778.0,278.0 C1787.0,292.2 1796.3,310.3 1804.0,326.0 C1811.7,341.7 1816.5,356.3 1824.0,372.0 C1831.5,387.7 1840.0,400.2 1849.0,420.0 C1858.0,439.8 1869.3,464.8 1878.0,491.0 C1886.7,517.2 1894.7,552.2 1901.0,577.0 C1907.3,601.8 1911.8,621.2 1916.0,640.0 C1920.2,658.8 1923.0,673.3 1926.0,690.0 C1929.0,706.7 1932.3,722.3 1934.0,740.0 C1935.7,757.7 1936.5,777.7 1936.0,796.0 C1935.5,814.3 1932.7,833.7 1931.0,850.0 C1929.3,866.3 1928.5,878.5 1926.0,894.0 C1923.5,909.5 1919.8,926.7 1916.0,943.0 C1912.2,959.3 1906.8,979.3 1903.0,992.0 C1899.2,1004.7 1896.8,1009.2 1893.0,1019.0 C1889.2,1028.8 1884.8,1042.3 1880.0,1051.0 C1875.2,1059.7 1871.0,1064.5 1864.0,1071.0 C1857.0,1077.5 1847.8,1084.0 1838.0,1090.0 C1828.2,1096.0 1816.0,1102.5 1805.0,1107.0 C1794.0,1111.5 1782.8,1114.8 1772.0,1117.0 C1761.2,1119.2 1750.8,1120.0 1740.0,1120.0 C1729.2,1120.0 1718.0,1118.7 1707.0,1117.0 C1696.0,1115.3 1684.8,1113.3 1674.0,1110.0 C1663.2,1106.7 1651.8,1102.5 1642.0,1097.0 C1632.2,1091.5 1623.8,1082.5 1615.0,1077.0 C1606.2,1071.5 1598.7,1067.2 1589.0,1064.0 C1579.3,1060.8 1566.8,1056.3 1557.0,1058.0 C1547.2,1059.7 1537.7,1067.5 1530.0,1074.0 C1522.3,1080.5 1517.5,1091.0 1511.0,1097.0 C1504.5,1103.0 1497.0,1109.5 1491.0,1110.0 C1485.0,1110.5 1481.5,1103.3 1475.0,1100.0 C1468.5,1096.7 1460.2,1094.8 1452.0,1090.0 C1443.8,1085.2 1433.7,1079.2 1426.0,1071.0 C1418.3,1062.8 1411.2,1051.3 1406.0,1041.0 C1400.8,1030.7 1397.2,1021.0 1395.0,1009.0 C1392.8,997.0 1392.5,977.2 1393.0,969.0 C1393.5,960.8 1395.8,969.7 1398.0,960.0 C1400.2,950.3 1402.5,927.3 1406.0,911.0 C1409.5,894.7 1414.7,881.2 1419.0,862.0 C1423.3,842.8 1429.0,823.3 1432.0,796.0 C1435.0,768.7 1435.7,727.3 1437.0,698.0 C1438.3,668.7 1439.3,645.0 1440.0,620.0 C1440.7,595.0 1440.5,567.0 1441.0,548.0 C1441.5,529.0 1441.8,520.2 1443.0,506.0 C1444.2,491.8 1445.7,477.3 1448.0,463.0 C1450.3,448.7 1454.2,434.2 1457.0,420.0 C1459.8,405.8 1462.7,387.8 1465.0,378.0 C1467.3,368.2 1468.5,369.7 1471.0,361.0 C1473.5,352.3 1476.2,337.5 1480.0,326.0 C1483.8,314.5 1489.3,302.3 1494.0,292.0 C1498.7,281.7 1502.3,273.5 1508.0,264.0 C1513.7,254.5 1520.8,244.0 1528.0,235.0 C1535.2,226.0 1543.2,217.5 1551.0,210.0 C1558.8,202.5 1567.2,195.8 1575.0,190.0 C1582.8,184.2 1590.5,178.7 1598.0,175.0 C1605.5,171.3 1616.3,169.2 1620.0,168.0 Z" fill="#8E8E98"/>
<path d="M1596,150 L1596,181 L1590,260 L1570,330 L1559,405 L1499,402 L1466,375 L1400,375 L1400,150 Z" fill="#62BE6E"/>
<path d="M1596,150 L1653,150 L1653,184 L1700,260 L1753,366 L1720,396 L1696,405 L1600,409 L1559,405 L1570,330 L1590,260 L1596,181 Z" fill="#FFFA6A"/>
<path d="M1653,150 L1950,150 L1950,330 L1806,330 L1753,366 L1700,260 L1653,184 Z" fill="#D8788A"/>
<path d="M1400,375 L1466,375 L1499,402 L1499,402 L1501,600 L1500,683 L1462,685 L1442,669 L1400,669 Z" fill="#0092A2"/>
<path d="M1499,402 L1559,405 L1581,407 L1581,407 L1585,620 L1589,718 L1537,678 L1527,682 L1500,683 L1501,600 L1499,402 Z" fill="#00D200"/>
<path d="M1581,407 L1600,409 L1696,405 L1720,396 L1750,500 L1781,620 L1802,724 L1720,731 L1674,741 L1642,734 L1589,718 L1585,620 L1581,407 Z" fill="#FFFF00"/>
<path d="M1720,396 L1753,366 L1806,330 L1950,330 L1950,640 L1916,659 L1844,718 L1802,724 L1781,620 L1750,500 L1720,396 Z" fill="#EE7E00"/>
<path d="M1390,669 L1442,669 L1462,685 L1500,683 L1498,783 L1478,862 L1458,966 L1432,968 L1400,960 L1390,960 Z" fill="#007484"/>
<path d="M1500,683 L1498,783 L1478,862 L1458,966 L1465,968 L1517,947 L1544,963 L1586,1009 L1593,927 L1589,718 L1537,678 L1527,682 Z" fill="#008200"/>
<path d="M1589,718 L1593,927 L1586,1009 L1661,1045 L1694,1051 L1805,1050 L1812,862 L1802,724 L1720,731 L1674,741 L1642,734 Z" fill="#C6C200"/>
<path d="M1802,724 L1812,862 L1805,1050 L1851,1032 L1893,1012 L1950,990 L1950,640 L1916,659 L1844,718 Z" fill="#B05A00"/>
<rect x="1380" y="150" width="570" height="990" fill="url(#lvshade)"/>
<g fill="none" stroke="#003000" stroke-width="5" stroke-linejoin="round">
<path d="M1466.0,375.0 C1471.5,379.5 1483.5,397.0 1499.0,402.0 C1514.5,407.0 1542.2,403.8 1559.0,405.0 C1575.8,406.2 1577.2,409.0 1600.0,409.0 C1622.8,409.0 1676.0,407.2 1696.0,405.0 C1716.0,402.8 1710.5,402.5 1720.0,396.0 C1729.5,389.5 1738.7,377.0 1753.0,366.0 C1767.3,355.0 1797.2,336.0 1806.0,330.0"/>
<path d="M1442.0,669.0 C1445.3,671.7 1452.3,682.7 1462.0,685.0 C1471.7,687.3 1489.2,683.5 1500.0,683.0 C1510.8,682.5 1520.8,682.8 1527.0,682.0 C1533.2,681.2 1526.7,672.0 1537.0,678.0 C1547.3,684.0 1571.5,708.7 1589.0,718.0 C1606.5,727.3 1627.8,730.2 1642.0,734.0 C1656.2,737.8 1661.0,741.5 1674.0,741.0 C1687.0,740.5 1698.7,733.8 1720.0,731.0 C1741.3,728.2 1781.3,726.2 1802.0,724.0 C1822.7,721.8 1825.0,728.8 1844.0,718.0 C1863.0,707.2 1904.0,668.8 1916.0,659.0"/>
<path d="M1400.0,960.0 C1405.3,961.3 1422.3,967.0 1432.0,968.0 C1441.7,969.0 1452.5,966.0 1458.0,966.0 C1463.5,966.0 1455.2,971.2 1465.0,968.0 C1474.8,964.8 1503.8,947.8 1517.0,947.0 C1530.2,946.2 1532.5,952.7 1544.0,963.0 C1555.5,973.3 1578.5,1000.8 1586.0,1009.0 C1593.5,1017.2 1576.5,1006.0 1589.0,1012.0 C1601.5,1018.0 1643.5,1038.5 1661.0,1045.0 C1678.5,1051.5 1670.0,1050.2 1694.0,1051.0 C1718.0,1051.8 1778.8,1053.2 1805.0,1050.0 C1831.2,1046.8 1836.3,1038.3 1851.0,1032.0 C1865.7,1025.7 1886.0,1015.3 1893.0,1012.0"/>
<path d="M1499.0,402.0 C1499.3,435.0 1500.8,553.2 1501.0,600.0 C1501.2,646.8 1500.2,669.2 1500.0,683.0"/>
<path d="M1581.0,407.0 C1581.7,442.5 1583.7,568.2 1585.0,620.0 C1586.3,671.8 1588.3,701.7 1589.0,718.0"/>
<path d="M1720.0,396.0 C1725.0,413.3 1739.8,462.7 1750.0,500.0 C1760.2,537.3 1772.3,582.7 1781.0,620.0 C1789.7,657.3 1798.5,706.7 1802.0,724.0"/>
<path d="M1500.0,683.0 C1499.7,699.7 1501.7,753.2 1498.0,783.0 C1494.3,812.8 1484.7,831.5 1478.0,862.0 C1471.3,892.5 1461.3,948.7 1458.0,966.0"/>
<path d="M1589.0,718.0 C1589.7,752.8 1593.5,878.5 1593.0,927.0 C1592.5,975.5 1587.2,995.3 1586.0,1009.0"/>
<path d="M1802.0,724.0 C1803.7,747.0 1811.5,807.7 1812.0,862.0 C1812.5,916.3 1806.2,1018.7 1805.0,1050.0"/>
<path d="M1596.0,181.0 C1595.0,194.2 1594.3,235.2 1590.0,260.0 C1585.7,284.8 1575.2,305.8 1570.0,330.0 C1564.8,354.2 1560.8,392.5 1559.0,405.0"/>
<path d="M1653.0,184.0 C1660.8,196.7 1683.3,229.7 1700.0,260.0 C1716.7,290.3 1744.2,348.3 1753.0,366.0"/>
</g>
</g>
<path d="M1511.0,1097.0 C1514.2,1093.2 1522.3,1080.5 1530.0,1074.0 C1537.7,1067.5 1547.2,1059.7 1557.0,1058.0 C1566.8,1056.3 1579.3,1060.8 1589.0,1064.0 C1598.7,1067.2 1606.2,1071.5 1615.0,1077.0 C1623.8,1082.5 1632.2,1091.5 1642.0,1097.0 C1651.8,1102.5 1663.2,1106.7 1674.0,1110.0 C1684.8,1113.3 1696.0,1115.3 1707.0,1117.0 C1718.0,1118.7 1729.2,1120.0 1740.0,1120.0 C1750.8,1120.0 1761.2,1119.2 1772.0,1117.0 C1782.8,1114.8 1794.0,1111.5 1805.0,1107.0 C1816.0,1102.5 1828.2,1096.0 1838.0,1090.0 C1847.8,1084.0 1857.0,1077.5 1864.0,1071.0 C1871.0,1064.5 1875.2,1059.7 1880.0,1051.0 C1884.8,1042.3 1890.8,1024.3 1893.0,1019.0" fill="none" stroke="#3838C8" stroke-width="5" />
<path d="M1393.0,969.0 C1393.3,975.7 1392.8,997.0 1395.0,1009.0 C1397.2,1021.0 1400.8,1030.7 1406.0,1041.0 C1411.2,1051.3 1418.3,1062.8 1426.0,1071.0 C1433.7,1079.2 1443.8,1085.2 1452.0,1090.0 C1460.2,1094.8 1471.2,1098.3 1475.0,1100.0" fill="none" stroke="#D040D0" stroke-width="5"/>
<ellipse cx="2590" cy="641" rx="378" ry="498" fill="#0F3308" stroke="#80F070" stroke-width="5"/>
<g transform="translate(2869,643) scale(1,1.058)">
<circle r="543.5" fill="none" stroke="#80F070" stroke-width="6.5"/>
<path d="M270.00,-467.65 A540,540 0 0 0 -270.00,-467.65 L-180.00,-311.77 A360,360 0 0 1 180.00,-311.77 Z" fill="#0000FF"/>
<path d="M540.00,-0.00 A540,540 0 0 0 270.00,-467.65 L180.00,-311.77 A360,360 0 0 1 360.00,-0.00 Z" fill="#CC0000"/>
<path d="M270.00,467.65 A540,540 0 0 0 540.00,0.00 L360.00,0.00 A360,360 0 0 1 180.00,311.77 Z" fill="#CC6600"/>
<path d="M-270.00,467.65 A540,540 0 0 0 270.00,467.65 L180.00,311.77 A360,360 0 0 1 -180.00,311.77 Z" fill="#C4C000"/>
<path d="M-540.00,-0.00 A540,540 0 0 0 -270.00,467.65 L-180.00,311.77 A360,360 0 0 1 -360.00,-0.00 Z" fill="#00A000"/>
<path d="M-270.00,-467.65 A540,540 0 0 0 -540.00,-0.00 L-360.00,-0.00 A360,360 0 0 1 -180.00,-311.77 Z" fill="#009C9C"/>
<path d="M180.00,-311.77 A360,360 0 0 0 -180.00,-311.77 L-90.00,-155.88 A180,180 0 0 1 90.00,-155.88 Z" fill="#0080FF"/>
<path d="M360.00,-0.00 A360,360 0 0 0 180.00,-311.77 L90.00,-155.88 A180,180 0 0 1 180.00,-0.00 Z" fill="#FF4040"/>
<path d="M180.00,311.77 A360,360 0 0 0 360.00,0.00 L180.00,0.00 A180,180 0 0 1 90.00,155.88 Z" fill="#FF8000"/>
<path d="M-180.00,311.77 A360,360 0 0 0 180.00,311.77 L90.00,155.88 A180,180 0 0 1 -90.00,155.88 Z" fill="#FFFF00"/>
<path d="M-360.00,-0.00 A360,360 0 0 0 -180.00,311.77 L-90.00,155.88 A180,180 0 0 1 -180.00,-0.00 Z" fill="#00FF00"/>
<path d="M-180.00,-311.77 A360,360 0 0 0 -360.00,-0.00 L-180.00,-0.00 A180,180 0 0 1 -90.00,-155.88 Z" fill="#00D8D8"/>
<path d="M0,0 L127.28,-127.28 A180,180 0 0 0 -127.28,-127.28 Z" fill="#6CB4FF"/>
<path d="M0,0 L127.28,127.28 A180,180 0 0 0 127.28,-127.28 Z" fill="#FF8888"/>
<path d="M0,0 L-127.28,127.28 A180,180 0 0 0 127.28,127.28 Z" fill="#FFFF66"/>
<path d="M0,0 L-127.28,-127.28 A180,180 0 0 0 -127.28,127.28 Z" fill="#78FF78"/>
<g stroke="#0A400A" stroke-width="3" fill="none">
<circle r="540"/><circle r="360"/><circle r="180"/>
<line x1="180.00" y1="-0.00" x2="540.00" y2="-0.00"/>
<line x1="90.00" y1="-155.88" x2="270.00" y2="-467.65"/>
<line x1="-90.00" y1="-155.88" x2="-270.00" y2="-467.65"/>
<line x1="-180.00" y1="-0.00" x2="-540.00" y2="-0.00"/>
<line x1="-90.00" y1="155.88" x2="-270.00" y2="467.65"/>
<line x1="90.00" y1="155.88" x2="270.00" y2="467.65"/>
<line x1="0" y1="0" x2="127.28" y2="-127.28"/>
<line x1="0" y1="0" x2="-127.28" y2="-127.28"/>
<line x1="0" y1="0" x2="-127.28" y2="127.28"/>
<line x1="0" y1="0" x2="127.28" y2="127.28"/>
</g>
</g>
<g fill="#FFFF00" font-family="Liberation Serif" font-size="67.5">
<text x="2867" y="53" text-anchor="middle">Anterior</text>
<text x="2862" y="1292" text-anchor="middle">Inferior</text>
<text transform="translate(2292,636) rotate(-90)" text-anchor="middle">Septal</text>
<text transform="translate(3477,643) rotate(-90)" text-anchor="middle">Lateral</text>
</g>
<g stroke="#FFFFFF" stroke-width="4" fill="none">
<line x1="1334" y1="1414" x2="1334" y2="2631"/>
<line x1="1293" y1="2631" x2="3485" y2="2631"/>
<line x1="1293" y1="1416.0" x2="1334" y2="1416.0"/>
<line x1="1307" y1="1471.2" x2="1334" y2="1471.2"/>
<line x1="1293" y1="1526.5" x2="1334" y2="1526.5"/>
<line x1="1307" y1="1581.7" x2="1334" y2="1581.7"/>
<line x1="1293" y1="1636.9" x2="1334" y2="1636.9"/>
<line x1="1307" y1="1692.1" x2="1334" y2="1692.1"/>
<line x1="1293" y1="1747.4" x2="1334" y2="1747.4"/>
<line x1="1307" y1="1802.6" x2="1334" y2="1802.6"/>
<line x1="1293" y1="1857.8" x2="1334" y2="1857.8"/>
<line x1="1307" y1="1913.0" x2="1334" y2="1913.0"/>
<line x1="1293" y1="1968.3" x2="1334" y2="1968.3"/>
<line x1="1307" y1="2023.5" x2="1334" y2="2023.5"/>
<line x1="1293" y1="2078.7" x2="1334" y2="2078.7"/>
<line x1="1307" y1="2134.0" x2="1334" y2="2134.0"/>
<line x1="1293" y1="2189.2" x2="1334" y2="2189.2"/>
<line x1="1307" y1="2244.4" x2="1334" y2="2244.4"/>
<line x1="1293" y1="2299.6" x2="1334" y2="2299.6"/>
<line x1="1307" y1="2354.9" x2="1334" y2="2354.9"/>
<line x1="1293" y1="2410.1" x2="1334" y2="2410.1"/>
<line x1="1307" y1="2465.3" x2="1334" y2="2465.3"/>
<line x1="1293" y1="2520.5" x2="1334" y2="2520.5"/>
<line x1="1307" y1="2575.8" x2="1334" y2="2575.8"/>
<line x1="1293" y1="2631.0" x2="1334" y2="2631.0"/>
<line x1="1334.0" y1="2631" x2="1334.0" y2="2671"/>
<line x1="1453.5" y1="2631" x2="1453.5" y2="2659"/>
<line x1="1572.9" y1="2631" x2="1572.9" y2="2671"/>
<line x1="1692.4" y1="2631" x2="1692.4" y2="2659"/>
<line x1="1811.8" y1="2631" x2="1811.8" y2="2671"/>
<line x1="1931.2" y1="2631" x2="1931.2" y2="2659"/>
<line x1="2050.7" y1="2631" x2="2050.7" y2="2671"/>
<line x1="2170.1" y1="2631" x2="2170.1" y2="2659"/>
<line x1="2289.6" y1="2631" x2="2289.6" y2="2671"/>
<line x1="2409.0" y1="2631" x2="2409.0" y2="2659"/>
<line x1="2528.5" y1="2631" x2="2528.5" y2="2671"/>
<line x1="2647.9" y1="2631" x2="2647.9" y2="2659"/>
<line x1="2767.4" y1="2631" x2="2767.4" y2="2671"/>
<line x1="2886.8" y1="2631" x2="2886.8" y2="2659"/>
<line x1="3006.3" y1="2631" x2="3006.3" y2="2671"/>
<line x1="3125.8" y1="2631" x2="3125.8" y2="2659"/>
<line x1="3245.2" y1="2631" x2="3245.2" y2="2671"/>
<line x1="3364.6" y1="2631" x2="3364.6" y2="2659"/>
<line x1="3484.1" y1="2631" x2="3484.1" y2="2671"/>
</g>
<g fill="#FFFFFF" font-family="Liberation Serif" font-size="68" text-anchor="end">
<text x="1279" y="1432.0">6</text>
<text x="1279" y="1542.5">6</text>
<text x="1279" y="1652.9">5</text>
<text x="1279" y="1763.4">5</text>
<text x="1279" y="1873.8">4</text>
<text x="1279" y="1984.3">4</text>
<text x="1279" y="2094.7">3</text>
<text x="1279" y="2205.2">3</text>
<text x="1279" y="2315.6">2</text>
<text x="1279" y="2426.1">2</text>
<text x="1279" y="2536.5">1</text>
<text x="1279" y="2647.0">1</text>
</g>
<g fill="#FFFFFF" font-family="Liberation Serif" font-size="68" text-anchor="middle">
<text x="1334.0" y="2741">−108</text>
<text x="1572.9" y="2741">−8</text>
<text x="1811.8" y="2741">92</text>
<text x="2050.7" y="2741">192</text>
<text x="2289.6" y="2741">292</text>
<text x="2528.5" y="2741">392</text>
<text x="2767.4" y="2741">492</text>
<text x="3006.3" y="2741">592</text>
<text x="3245.2" y="2741">692</text>
<text x="3484.1" y="2741">792</text>
<text x="1278" y="1352">[mL]</text>
</g>
<g fill="#FFFFFF" font-family="Liberation Serif" font-size="68">
<text x="1610" y="1465">ED</text>
<text x="2373" y="1465">ES</text>
</g>
<line x1="1591" y1="1416" x2="1591" y2="2570" stroke="#D8A800" stroke-width="4" stroke-dasharray="4 10"/>
<line x1="2346.5" y1="1416" x2="2346.5" y2="2625" stroke="#0A3C9C" stroke-width="6" stroke-dasharray="3 10.5"/>
<rect x="2069" y="1415" width="6.5" height="1216" fill="#55FF00"/>
<rect x="2068" y="1415" width="1" height="1216" fill="#2a8000"/>
<rect x="2075.5" y="1415" width="1" height="1216" fill="#2a8000"/>
<g fill="none" stroke-width="3.2" stroke-linejoin="round" stroke-linecap="round">
<path d="M1483.0,1548.0 C1493.3,1561.7 1527.2,1605.5 1545.0,1630.0 C1562.8,1654.5 1576.7,1673.3 1590.0,1695.0 C1603.3,1716.7 1612.5,1735.8 1625.0,1760.0 C1637.5,1784.2 1650.8,1814.2 1665.0,1840.0 C1679.2,1865.8 1696.7,1889.2 1710.0,1915.0 C1723.3,1940.8 1731.7,1975.0 1745.0,1995.0 C1758.3,2015.0 1772.5,2015.8 1790.0,2035.0 C1807.5,2054.2 1823.3,2080.8 1850.0,2110.0 C1876.7,2139.2 1925.0,2187.0 1950.0,2210.0 C1975.0,2233.0 1979.7,2233.5 2000.0,2248.0 C2020.3,2262.5 2043.2,2286.5 2072.0,2297.0 C2100.8,2307.5 2141.3,2310.5 2173.0,2311.0 C2204.7,2311.5 2233.2,2305.2 2262.0,2300.0 C2290.8,2294.8 2320.8,2286.7 2346.0,2280.0 C2371.2,2273.3 2381.7,2273.0 2413.0,2260.0 C2444.3,2247.0 2498.7,2217.7 2534.0,2202.0 C2569.3,2186.3 2597.3,2180.5 2625.0,2166.0 C2652.7,2151.5 2676.5,2134.3 2700.0,2115.0 C2723.5,2095.7 2741.7,2072.5 2766.0,2050.0 C2790.3,2027.5 2820.5,2003.2 2846.0,1980.0 C2871.5,1956.8 2891.2,1933.0 2919.0,1911.0 C2946.8,1889.0 2982.2,1868.5 3013.0,1848.0 C3043.8,1827.5 3073.7,1812.0 3104.0,1788.0 C3134.3,1764.0 3164.8,1733.2 3195.0,1704.0 C3225.2,1674.8 3254.8,1637.8 3285.0,1613.0 C3315.2,1588.2 3352.7,1570.0 3376.0,1555.0 C3399.3,1540.0 3416.8,1528.3 3425.0,1523.0" stroke="#0000FF"/>
<path d="M1483.0,1665.0 C1489.2,1661.7 1507.2,1651.2 1520.0,1645.0 C1532.8,1638.8 1547.8,1628.3 1560.0,1628.0 C1572.2,1627.7 1582.2,1633.5 1593.0,1643.0 C1603.8,1652.5 1613.8,1667.2 1625.0,1685.0 C1636.2,1702.8 1647.5,1724.2 1660.0,1750.0 C1672.5,1775.8 1686.7,1813.3 1700.0,1840.0 C1713.3,1866.7 1728.3,1890.0 1740.0,1910.0 C1751.7,1930.0 1755.0,1940.0 1770.0,1960.0 C1785.0,1980.0 1808.3,2008.3 1830.0,2030.0 C1851.7,2051.7 1871.7,2065.0 1900.0,2090.0 C1928.3,2115.0 1971.3,2152.5 2000.0,2180.0 C2028.7,2207.5 2047.0,2236.7 2072.0,2255.0 C2097.0,2273.3 2120.3,2275.0 2150.0,2290.0 C2179.7,2305.0 2217.3,2333.3 2250.0,2345.0 C2282.7,2356.7 2321.0,2357.2 2346.0,2360.0 C2371.0,2362.8 2382.7,2363.7 2400.0,2362.0 C2417.3,2360.3 2436.7,2354.5 2450.0,2350.0 C2463.3,2345.5 2469.5,2343.3 2480.0,2335.0 C2490.5,2326.7 2495.3,2319.7 2513.0,2300.0 C2530.7,2280.3 2559.0,2250.3 2586.0,2217.0 C2613.0,2183.7 2655.3,2127.8 2675.0,2100.0 C2694.7,2072.2 2690.0,2071.2 2704.0,2050.0 C2718.0,2028.8 2737.7,2001.7 2759.0,1973.0 C2780.3,1944.3 2805.3,1904.0 2832.0,1878.0 C2858.7,1852.0 2891.8,1835.7 2919.0,1817.0 C2946.2,1798.3 2967.2,1779.3 2995.0,1766.0 C3022.8,1752.7 3052.7,1747.3 3086.0,1737.0 C3119.3,1726.7 3164.8,1714.3 3195.0,1704.0 C3225.2,1693.7 3242.8,1689.5 3267.0,1675.0 C3291.2,1660.5 3313.7,1639.7 3340.0,1617.0 C3366.3,1594.3 3410.8,1552.0 3425.0,1539.0" stroke="#CC0000"/>
<path d="M1483.0,1845.0 C1489.2,1841.7 1507.2,1830.8 1520.0,1825.0 C1532.8,1819.2 1546.7,1810.5 1560.0,1810.0 C1573.3,1809.5 1586.7,1812.0 1600.0,1822.0 C1613.3,1832.0 1628.3,1853.7 1640.0,1870.0 C1651.7,1886.3 1659.2,1897.5 1670.0,1920.0 C1680.8,1942.5 1690.0,1980.0 1705.0,2005.0 C1720.0,2030.0 1735.8,2045.8 1760.0,2070.0 C1784.2,2094.2 1818.3,2125.0 1850.0,2150.0 C1881.7,2175.0 1913.0,2194.3 1950.0,2220.0 C1987.0,2245.7 2030.3,2282.3 2072.0,2304.0 C2113.7,2325.7 2162.0,2338.7 2200.0,2350.0 C2238.0,2361.3 2264.8,2367.2 2300.0,2372.0 C2335.2,2376.8 2381.0,2380.8 2411.0,2379.0 C2441.0,2377.2 2450.8,2379.2 2480.0,2361.0 C2509.2,2342.8 2553.5,2302.8 2586.0,2270.0 C2618.5,2237.2 2652.0,2192.3 2675.0,2164.0 C2698.0,2135.7 2710.0,2119.0 2724.0,2100.0 C2738.0,2081.0 2741.0,2069.3 2759.0,2050.0 C2777.0,2030.7 2804.2,2003.5 2832.0,1984.0 C2859.8,1964.5 2895.8,1946.7 2926.0,1933.0 C2956.2,1919.3 2986.3,1907.5 3013.0,1902.0 C3039.7,1896.5 3055.7,1899.7 3086.0,1900.0 C3116.3,1900.3 3164.8,1904.5 3195.0,1904.0 C3225.2,1903.5 3242.8,1903.7 3267.0,1897.0 C3291.2,1890.3 3313.7,1880.3 3340.0,1864.0 C3366.3,1847.7 3410.8,1809.8 3425.0,1799.0" stroke="#FF4040"/>
<path d="M1483.0,1824.0 C1492.5,1816.7 1520.5,1791.0 1540.0,1780.0 C1559.5,1769.0 1583.3,1760.5 1600.0,1758.0 C1616.7,1755.5 1623.3,1756.3 1640.0,1765.0 C1656.7,1773.7 1680.0,1790.8 1700.0,1810.0 C1720.0,1829.2 1743.3,1858.3 1760.0,1880.0 C1776.7,1901.7 1786.7,1920.0 1800.0,1940.0 C1813.3,1960.0 1826.7,1983.3 1840.0,2000.0 C1853.3,2016.7 1856.7,2020.0 1880.0,2040.0 C1903.3,2060.0 1948.0,2095.2 1980.0,2120.0 C2012.0,2144.8 2043.7,2170.7 2072.0,2189.0 C2100.3,2207.3 2120.3,2209.8 2150.0,2230.0 C2179.7,2250.2 2217.3,2283.3 2250.0,2310.0 C2282.7,2336.7 2319.2,2371.0 2346.0,2390.0 C2372.8,2409.0 2388.7,2422.2 2411.0,2424.0 C2433.3,2425.8 2450.8,2425.0 2480.0,2401.0 C2509.2,2377.0 2556.0,2315.3 2586.0,2280.0 C2616.0,2244.7 2633.2,2219.0 2660.0,2189.0 C2686.8,2159.0 2724.5,2123.2 2747.0,2100.0 C2769.5,2076.8 2774.8,2068.2 2795.0,2050.0 C2815.2,2031.8 2846.8,2004.5 2868.0,1991.0 C2889.2,1977.5 2897.8,1973.5 2922.0,1969.0 C2946.2,1964.5 2985.7,1967.7 3013.0,1964.0 C3040.3,1960.3 3058.7,1957.0 3086.0,1947.0 C3113.3,1937.0 3146.8,1918.5 3177.0,1904.0 C3207.2,1889.5 3239.8,1875.2 3267.0,1860.0 C3294.2,1844.8 3313.7,1834.7 3340.0,1813.0 C3366.3,1791.3 3410.8,1743.8 3425.0,1730.0" stroke="#FF8000"/>
<path d="M1483.0,1777.0 C1490.8,1769.2 1512.2,1743.7 1530.0,1730.0 C1547.8,1716.3 1573.3,1699.5 1590.0,1695.0 C1606.7,1690.5 1615.0,1694.7 1630.0,1703.0 C1645.0,1711.3 1661.7,1725.5 1680.0,1745.0 C1698.3,1764.5 1721.7,1795.8 1740.0,1820.0 C1758.3,1844.2 1771.7,1863.3 1790.0,1890.0 C1808.3,1916.7 1823.3,1943.3 1850.0,1980.0 C1876.7,2016.7 1920.0,2073.3 1950.0,2110.0 C1980.0,2146.7 2009.7,2177.5 2030.0,2200.0 C2050.3,2222.5 2052.0,2228.3 2072.0,2245.0 C2092.0,2261.7 2120.3,2275.8 2150.0,2300.0 C2179.7,2324.2 2217.3,2365.8 2250.0,2390.0 C2282.7,2414.2 2319.2,2432.3 2346.0,2445.0 C2372.8,2457.7 2388.7,2466.3 2411.0,2466.0 C2433.3,2465.7 2452.7,2463.3 2480.0,2443.0 C2507.3,2422.7 2546.7,2376.5 2575.0,2344.0 C2603.3,2311.5 2612.8,2288.7 2650.0,2248.0 C2687.2,2207.3 2766.0,2133.0 2798.0,2100.0 C2830.0,2067.0 2821.3,2067.0 2842.0,2050.0 C2862.7,2033.0 2893.5,2010.2 2922.0,1998.0 C2950.5,1985.8 2985.7,1985.5 3013.0,1977.0 C3040.3,1968.5 3058.7,1959.8 3086.0,1947.0 C3113.3,1934.2 3146.8,1916.8 3177.0,1900.0 C3207.2,1883.2 3239.8,1866.0 3267.0,1846.0 C3294.2,1826.0 3313.7,1805.5 3340.0,1780.0 C3366.3,1754.5 3410.8,1707.5 3425.0,1693.0" stroke="#CC6600"/>
<path d="M1483.0,1741.0 C1499.2,1740.0 1557.2,1734.3 1580.0,1735.0 C1602.8,1735.7 1603.3,1735.8 1620.0,1745.0 C1636.7,1754.2 1658.3,1770.8 1680.0,1790.0 C1701.7,1809.2 1725.0,1831.7 1750.0,1860.0 C1775.0,1888.3 1810.0,1936.7 1830.0,1960.0 C1850.0,1983.3 1855.0,1986.7 1870.0,2000.0 C1885.0,2013.3 1898.3,2016.7 1920.0,2040.0 C1941.7,2063.3 1974.7,2108.3 2000.0,2140.0 C2025.3,2171.7 2047.0,2205.0 2072.0,2230.0 C2097.0,2255.0 2120.3,2265.0 2150.0,2290.0 C2179.7,2315.0 2217.3,2353.3 2250.0,2380.0 C2282.7,2406.7 2319.2,2435.7 2346.0,2450.0 C2372.8,2464.3 2389.2,2462.8 2411.0,2466.0 C2432.8,2469.2 2450.0,2471.7 2477.0,2469.0 C2504.0,2466.3 2533.7,2476.2 2573.0,2450.0 C2612.3,2423.8 2670.2,2353.7 2713.0,2312.0 C2755.8,2270.3 2804.2,2225.0 2830.0,2200.0 C2855.8,2175.0 2843.5,2180.5 2868.0,2162.0 C2892.5,2143.5 2946.8,2103.0 2977.0,2089.0 C3007.2,2075.0 3012.7,2080.2 3049.0,2078.0 C3085.3,2075.8 3152.5,2080.2 3195.0,2076.0 C3237.5,2071.8 3265.7,2068.3 3304.0,2053.0 C3342.3,2037.7 3404.8,1995.5 3425.0,1984.0" stroke="#C8C000"/>
<path d="M1483.0,1884.0 C1495.8,1880.2 1540.5,1863.7 1560.0,1861.0 C1579.5,1858.3 1583.3,1859.8 1600.0,1868.0 C1616.7,1876.2 1640.0,1894.7 1660.0,1910.0 C1680.0,1925.3 1703.3,1944.2 1720.0,1960.0 C1736.7,1975.8 1738.3,1981.7 1760.0,2005.0 C1781.7,2028.3 1818.3,2070.0 1850.0,2100.0 C1881.7,2130.0 1925.0,2165.8 1950.0,2185.0 C1975.0,2204.2 1979.7,2205.0 2000.0,2215.0 C2020.3,2225.0 2043.2,2237.3 2072.0,2245.0 C2100.8,2252.7 2127.3,2260.7 2173.0,2261.0 C2218.7,2261.3 2291.5,2253.5 2346.0,2247.0 C2400.5,2240.5 2449.3,2229.0 2500.0,2222.0 C2550.7,2215.0 2609.8,2210.8 2650.0,2205.0 C2690.2,2199.2 2698.7,2204.0 2741.0,2187.0 C2783.3,2170.0 2858.7,2118.2 2904.0,2103.0 C2949.3,2087.8 2964.5,2100.2 3013.0,2096.0 C3061.5,2091.8 3146.5,2087.7 3195.0,2078.0 C3243.5,2068.3 3265.7,2054.3 3304.0,2038.0 C3342.3,2021.7 3404.8,1989.7 3425.0,1980.0" stroke="#009C9C"/>
<path d="M1483.0,1939.0 C1494.2,1931.7 1532.2,1903.5 1550.0,1895.0 C1567.8,1886.5 1575.0,1886.3 1590.0,1888.0 C1605.0,1889.7 1621.7,1893.8 1640.0,1905.0 C1658.3,1916.2 1680.0,1934.2 1700.0,1955.0 C1720.0,1975.8 1735.0,2000.8 1760.0,2030.0 C1785.0,2059.2 1818.3,2096.7 1850.0,2130.0 C1881.7,2163.3 1913.0,2198.3 1950.0,2230.0 C1987.0,2261.7 2038.7,2299.2 2072.0,2320.0 C2105.3,2340.8 2116.8,2346.7 2150.0,2355.0 C2183.2,2363.3 2229.3,2369.5 2271.0,2370.0 C2312.7,2370.5 2365.2,2361.3 2400.0,2358.0 C2434.8,2354.7 2442.0,2351.7 2480.0,2350.0 C2518.0,2348.3 2589.2,2359.7 2628.0,2348.0 C2666.8,2336.3 2691.8,2300.2 2713.0,2280.0 C2734.2,2259.8 2735.5,2244.7 2755.0,2227.0 C2774.5,2209.3 2799.2,2186.7 2830.0,2174.0 C2860.8,2161.3 2897.3,2156.3 2940.0,2151.0 C2982.7,2145.7 3043.5,2146.3 3086.0,2142.0 C3128.5,2137.7 3158.7,2133.8 3195.0,2125.0 C3231.3,2116.2 3265.7,2107.7 3304.0,2089.0 C3342.3,2070.3 3404.8,2025.7 3425.0,2013.0" stroke="#00D8D8"/>
<path d="M1483.0,1921.0 C1494.2,1927.5 1530.5,1946.8 1550.0,1960.0 C1569.5,1973.2 1575.0,1978.3 1600.0,2000.0 C1625.0,2021.7 1666.7,2058.3 1700.0,2090.0 C1733.3,2121.7 1770.0,2160.0 1800.0,2190.0 C1830.0,2220.0 1855.0,2250.0 1880.0,2270.0 C1905.0,2290.0 1918.0,2293.3 1950.0,2310.0 C1982.0,2326.7 2029.5,2356.2 2072.0,2370.0 C2114.5,2383.8 2167.0,2390.5 2205.0,2393.0 C2243.0,2395.5 2267.5,2391.3 2300.0,2385.0 C2332.5,2378.7 2370.0,2364.3 2400.0,2355.0 C2430.0,2345.7 2450.8,2342.2 2480.0,2329.0 C2509.2,2315.8 2548.5,2287.3 2575.0,2276.0 C2601.5,2264.7 2612.5,2275.5 2639.0,2261.0 C2665.5,2246.5 2702.2,2212.3 2734.0,2189.0 C2765.8,2165.7 2801.7,2138.3 2830.0,2121.0 C2858.3,2103.7 2879.5,2096.8 2904.0,2085.0 C2928.5,2073.2 2949.7,2060.5 2977.0,2050.0 C3004.3,2039.5 3031.7,2031.8 3068.0,2022.0 C3104.3,2012.2 3155.7,2000.3 3195.0,1991.0 C3234.3,1981.7 3265.7,1978.2 3304.0,1966.0 C3342.3,1953.8 3404.8,1926.0 3425.0,1918.0" stroke="#0080FF"/>
<path d="M1483.0,1951.0 C1495.8,1950.2 1537.2,1945.5 1560.0,1946.0 C1582.8,1946.5 1598.3,1947.5 1620.0,1954.0 C1641.7,1960.5 1661.7,1967.3 1690.0,1985.0 C1718.3,2002.7 1755.0,2030.8 1790.0,2060.0 C1825.0,2089.2 1865.0,2125.0 1900.0,2160.0 C1935.0,2195.0 1971.3,2240.8 2000.0,2270.0 C2028.7,2299.2 2047.0,2313.3 2072.0,2335.0 C2097.0,2356.7 2120.3,2375.8 2150.0,2400.0 C2179.7,2424.2 2217.3,2458.3 2250.0,2480.0 C2282.7,2501.7 2320.8,2520.2 2346.0,2530.0 C2371.2,2539.8 2375.3,2539.0 2401.0,2539.0 C2426.7,2539.0 2466.8,2538.2 2500.0,2530.0 C2533.2,2521.8 2575.0,2502.3 2600.0,2490.0 C2625.0,2477.7 2623.5,2478.0 2650.0,2456.0 C2676.5,2434.0 2716.7,2391.3 2759.0,2358.0 C2801.3,2324.7 2861.7,2281.5 2904.0,2256.0 C2946.3,2230.5 2964.5,2214.7 3013.0,2205.0 C3061.5,2195.3 3152.7,2202.2 3195.0,2198.0 C3237.3,2193.8 3228.7,2191.0 3267.0,2180.0 C3305.3,2169.0 3398.7,2140.0 3425.0,2132.0" stroke="#FFFF00"/>
<path d="M1483.0,1958.0 C1499.2,1958.3 1553.8,1951.3 1580.0,1960.0 C1606.2,1968.7 1620.0,1990.0 1640.0,2010.0 C1660.0,2030.0 1673.3,2050.0 1700.0,2080.0 C1726.7,2110.0 1766.7,2155.0 1800.0,2190.0 C1833.3,2225.0 1866.7,2258.3 1900.0,2290.0 C1933.3,2321.7 1971.3,2356.7 2000.0,2380.0 C2028.7,2403.3 2047.0,2410.0 2072.0,2430.0 C2097.0,2450.0 2120.3,2482.8 2150.0,2500.0 C2179.7,2517.2 2217.3,2526.3 2250.0,2533.0 C2282.7,2539.7 2312.7,2535.5 2346.0,2540.0 C2379.3,2544.5 2419.3,2552.7 2450.0,2560.0 C2480.7,2567.3 2505.0,2584.0 2530.0,2584.0 C2555.0,2584.0 2580.0,2573.5 2600.0,2560.0 C2620.0,2546.5 2623.5,2530.0 2650.0,2503.0 C2676.5,2476.0 2722.7,2433.2 2759.0,2398.0 C2795.3,2362.8 2837.8,2311.5 2868.0,2292.0 C2898.2,2272.5 2903.7,2279.7 2940.0,2281.0 C2976.3,2282.3 3037.5,2295.3 3086.0,2300.0 C3134.5,2304.7 3194.7,2309.0 3231.0,2309.0 C3267.3,2309.0 3271.7,2314.7 3304.0,2300.0 C3336.3,2285.3 3404.8,2234.2 3425.0,2221.0" stroke="#00A000"/>
<path d="M1483.0,2020.0 C1495.8,2016.7 1537.2,1998.3 1560.0,2000.0 C1582.8,2001.7 1596.7,2011.7 1620.0,2030.0 C1643.3,2048.3 1670.0,2080.0 1700.0,2110.0 C1730.0,2140.0 1770.0,2178.3 1800.0,2210.0 C1830.0,2241.7 1855.0,2270.0 1880.0,2300.0 C1905.0,2330.0 1930.0,2365.0 1950.0,2390.0 C1970.0,2415.0 1983.3,2430.0 2000.0,2450.0 C2016.7,2470.0 2025.0,2490.0 2050.0,2510.0 C2075.0,2530.0 2116.7,2553.3 2150.0,2570.0 C2183.3,2586.7 2224.3,2601.5 2250.0,2610.0 C2275.7,2618.5 2279.0,2619.2 2304.0,2621.0 C2329.0,2622.8 2359.0,2622.8 2400.0,2621.0 C2441.0,2619.2 2508.3,2619.3 2550.0,2610.0 C2591.7,2600.7 2615.2,2597.3 2650.0,2565.0 C2684.8,2532.7 2728.7,2451.2 2759.0,2416.0 C2789.3,2380.8 2801.8,2368.5 2832.0,2354.0 C2862.2,2339.5 2897.7,2332.3 2940.0,2329.0 C2982.3,2325.7 3040.5,2331.7 3086.0,2334.0 C3131.5,2336.3 3176.7,2343.8 3213.0,2343.0 C3249.3,2342.2 3268.7,2344.7 3304.0,2329.0 C3339.3,2313.3 3404.8,2262.3 3425.0,2249.0" stroke="#00FF00"/>
<path d="M1483.0,2006.0 C1494.2,1998.7 1531.8,1969.8 1550.0,1962.0 C1568.2,1954.2 1577.0,1947.7 1592.0,1959.0 C1607.0,1970.3 1622.0,2006.5 1640.0,2030.0 C1658.0,2053.5 1673.3,2075.0 1700.0,2100.0 C1726.7,2125.0 1766.7,2154.2 1800.0,2180.0 C1833.3,2205.8 1866.7,2230.0 1900.0,2255.0 C1933.3,2280.0 1971.3,2311.7 2000.0,2330.0 C2028.7,2348.3 2047.0,2355.0 2072.0,2365.0 C2097.0,2375.0 2120.3,2375.8 2150.0,2390.0 C2179.7,2404.2 2217.3,2433.3 2250.0,2450.0 C2282.7,2466.7 2320.8,2482.0 2346.0,2490.0 C2371.2,2498.0 2382.0,2498.8 2401.0,2498.0 C2420.0,2497.2 2440.5,2493.0 2460.0,2485.0 C2479.5,2477.0 2488.2,2473.5 2518.0,2450.0 C2547.8,2426.5 2606.5,2373.0 2639.0,2344.0 C2671.5,2315.0 2681.2,2300.8 2713.0,2276.0 C2744.8,2251.2 2780.0,2217.7 2830.0,2195.0 C2880.0,2172.3 2952.2,2155.3 3013.0,2140.0 C3073.8,2124.7 3146.5,2116.3 3195.0,2103.0 C3243.5,2089.7 3265.7,2080.5 3304.0,2060.0 C3342.3,2039.5 3404.8,1993.3 3425.0,1980.0" stroke="#FF8888"/>
<path d="M1483.0,2068.0 C1490.2,2066.7 1510.3,2061.3 1526.0,2060.0 C1541.7,2058.7 1556.3,2051.7 1577.0,2060.0 C1597.7,2068.3 1621.2,2088.3 1650.0,2110.0 C1678.8,2131.7 1716.7,2165.0 1750.0,2190.0 C1783.3,2215.0 1816.7,2238.3 1850.0,2260.0 C1883.3,2281.7 1916.7,2302.5 1950.0,2320.0 C1983.3,2337.5 2016.7,2351.7 2050.0,2365.0 C2083.3,2378.3 2116.7,2390.8 2150.0,2400.0 C2183.3,2409.2 2215.3,2413.5 2250.0,2420.0 C2284.7,2426.5 2324.7,2439.0 2358.0,2439.0 C2391.3,2439.0 2418.0,2429.8 2450.0,2420.0 C2482.0,2410.2 2516.7,2395.2 2550.0,2380.0 C2583.3,2364.8 2621.2,2347.8 2650.0,2329.0 C2678.8,2310.2 2695.8,2285.8 2723.0,2267.0 C2750.2,2248.2 2776.8,2230.5 2813.0,2216.0 C2849.2,2201.5 2894.5,2189.7 2940.0,2180.0 C2985.5,2170.3 3037.5,2162.8 3086.0,2158.0 C3134.5,2153.2 3191.7,2156.5 3231.0,2151.0 C3270.3,2145.5 3289.7,2136.3 3322.0,2125.0 C3354.3,2113.7 3407.8,2090.0 3425.0,2083.0" stroke="#6CB4FF"/>
<path d="M1483.0,2115.0 C1500.8,2108.7 1553.8,2071.2 1590.0,2077.0 C1626.2,2082.8 1665.0,2126.2 1700.0,2150.0 C1735.0,2173.8 1771.7,2196.7 1800.0,2220.0 C1828.3,2243.3 1845.0,2268.3 1870.0,2290.0 C1895.0,2311.7 1918.3,2322.5 1950.0,2350.0 C1981.7,2377.5 2026.7,2426.7 2060.0,2455.0 C2093.3,2483.3 2118.3,2504.7 2150.0,2520.0 C2181.7,2535.3 2219.0,2541.3 2250.0,2547.0 C2281.0,2552.7 2302.7,2554.3 2336.0,2554.0 C2369.3,2553.7 2414.3,2550.7 2450.0,2545.0 C2485.7,2539.3 2516.7,2530.7 2550.0,2520.0 C2583.3,2509.3 2615.2,2502.7 2650.0,2481.0 C2684.8,2459.3 2722.7,2420.5 2759.0,2390.0 C2795.3,2359.5 2831.7,2313.7 2868.0,2298.0 C2904.3,2282.3 2922.5,2297.0 2977.0,2296.0 C3031.5,2295.0 3134.5,2298.7 3195.0,2292.0 C3255.5,2285.3 3301.7,2269.8 3340.0,2256.0 C3378.3,2242.2 3410.8,2216.8 3425.0,2209.0" stroke="#78FF78"/>
<path d="M1483.0,2130.0 C1499.2,2126.7 1543.8,2103.3 1580.0,2110.0 C1616.2,2116.7 1663.3,2146.7 1700.0,2170.0 C1736.7,2193.3 1766.7,2226.7 1800.0,2250.0 C1833.3,2273.3 1866.7,2290.0 1900.0,2310.0 C1933.3,2330.0 1971.3,2350.0 2000.0,2370.0 C2028.7,2390.0 2047.0,2411.7 2072.0,2430.0 C2097.0,2448.3 2120.3,2461.7 2150.0,2480.0 C2179.7,2498.3 2213.5,2524.3 2250.0,2540.0 C2286.5,2555.7 2335.7,2570.7 2369.0,2574.0 C2402.3,2577.3 2419.8,2567.3 2450.0,2560.0 C2480.2,2552.7 2516.7,2542.5 2550.0,2530.0 C2583.3,2517.5 2609.2,2508.3 2650.0,2485.0 C2690.8,2461.7 2746.7,2416.0 2795.0,2390.0 C2843.3,2364.0 2891.5,2342.8 2940.0,2329.0 C2988.5,2315.2 3037.5,2315.5 3086.0,2307.0 C3134.5,2298.5 3188.7,2287.7 3231.0,2278.0 C3273.3,2268.3 3307.7,2257.2 3340.0,2249.0 C3372.3,2240.8 3410.8,2232.3 3425.0,2229.0" stroke="#FFFF66"/>
</g>
<circle cx="2173" cy="2311" r="12.5" fill="#0000FF"/>
<circle cx="2400" cy="2362" r="12.5" fill="#CC0000"/>
<circle cx="2411" cy="2379" r="12.5" fill="#FF4040"/>
<circle cx="2411" cy="2424" r="12.5" fill="#FF8000"/>
<circle cx="2411" cy="2466" r="12.5" fill="#CC6600"/>
<circle cx="2477" cy="2469" r="12.5" fill="#C8C000"/>
<circle cx="2173" cy="2261" r="12.5" fill="#009C9C"/>
<circle cx="2271" cy="2370" r="12.5" fill="#00D8D8"/>
<circle cx="2205" cy="2393" r="12.5" fill="#0080FF"/>
<circle cx="2401" cy="2539" r="12.5" fill="#FFFF00"/>
<circle cx="2530" cy="2584" r="12.5" fill="#00A000"/>
<circle cx="2304" cy="2621" r="12.5" fill="#00FF00"/>
<circle cx="2401" cy="2498" r="12.5" fill="#FF8888"/>
<circle cx="2358" cy="2439" r="12.5" fill="#6CB4FF"/>
<circle cx="2336" cy="2554" r="12.5" fill="#78FF78"/>
<circle cx="2369" cy="2574" r="12.5" fill="#FFFF66"/>
<rect x="236" y="2772" width="3308" height="1" fill="#8a8a8a"/>
<rect x="236" y="0" width="1" height="2773" fill="#8a8a8a"/>
<rect x="3543" y="0" width="1" height="2773" fill="#8a8a8a"/>
</svg></body></html>
